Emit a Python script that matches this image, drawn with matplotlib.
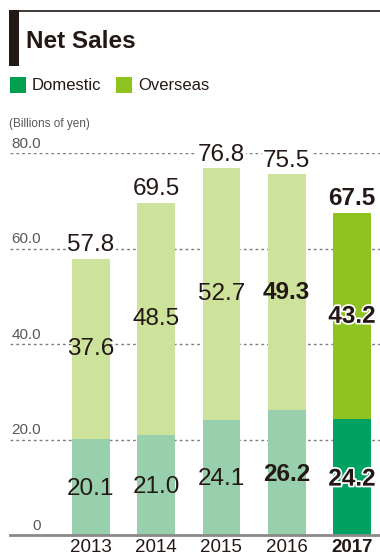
import matplotlib.pyplot as plt
import matplotlib.patheffects as pe
from matplotlib.patches import Rectangle
from matplotlib.lines import Line2D

plt.rcParams['font.family'] = ['Liberation Sans', 'DejaVu Sans']

# net sales, billions of yen
years = ['2013', '2014', '2015', '2016', '2017']
domestic = [20.1, 21.0, 24.1, 26.2, 24.2]
overseas = [37.6, 48.5, 52.7, 49.3, 43.2]
totals = [57.8, 69.5, 76.8, 75.5, 67.5]
yticks = [0, 20, 40, 60, 80]
ytick_labels = ['0', '20.0', '40.0', '60.0', '80.0']

INK = '#231815'
GRAY = '#595757'
dom_colors = ['#98cfac'] * 4 + ['#00a262']
ovs_colors = ['#cde29b'] * 4 + ['#8fc31f']

W, H = 380, 555
fig = plt.figure(figsize=(W / 100, H / 100), dpi=100)


def fx(px):
    return px / W


def fy(py):
    return 1 - py / H


# header: rule, black tab, title
fig.add_artist(Line2D([fx(10), 1], [fy(10.5), fy(10.5)], color=INK, lw=1.2))
fig.add_artist(Rectangle((fx(9), fy(66)), fx(10), (66 - 10) / H,
                         color=INK, lw=0))
fig.text(fx(26), fy(42), 'Net Sales', fontsize=17.5, fontweight='bold',
         color=INK, va='center', ha='left')

# legend
for x0, label, c in [(10, 'Domestic', '#00a050'), (116, 'Overseas', '#8dc21f')]:
    fig.add_artist(Rectangle((fx(x0), fy(93)), fx(16), 16 / H, color=c, lw=0))
    fig.text(fx(x0 + 22), fy(85.5), label, fontsize=12, color=INK,
             va='center', ha='left')

fig.text(fx(9), fy(124), '(Billions of yen)', fontsize=8.5, color=GRAY,
         va='center', ha='left')

ax = fig.add_axes([fx(10), fy(535), 1 - fx(10), (535 - 153) / H])
x = list(range(len(years)))
width = 0.58

ax.bar(x, domestic, width, color=dom_colors, zorder=2)
ax.bar(x, overseas, width, bottom=domestic, color=ovs_colors, zorder=2)

ax.set_xlim(-1.24, 4.43)
ax.set_ylim(0, 80)
for s in ax.spines.values():
    s.set_visible(False)
ax.set_xticks([])
ax.set_yticks([])

# dotted gridlines and tick labels above them
for v, lab in zip(yticks, ytick_labels):
    if v > 0:
        ax.axhline(v, color='#7d7d7d', lw=1, ls=(0, (2, 2.2)), zorder=1)
    ax.annotate(lab, xy=(0.084, v), xycoords=ax.get_yaxis_transform(),
                xytext=(0, 1.5), textcoords='offset points',
                ha='right', va='bottom', fontsize=11, color=GRAY)
ax.axhline(0, color='#8a8a8a', lw=2, zorder=3, clip_on=False)

outline = [pe.withStroke(linewidth=2.5, foreground='white')]
for i in x:
    last = i == len(years) - 1
    inner_bold = i >= 3
    effects = outline if last else None
    ax.text(i, domestic[i] / 2 - 0.4, f'{domestic[i]:.1f}', ha='center',
            va='center', fontsize=17.5, color=INK, zorder=4,
            path_effects=effects,
            fontweight='bold' if inner_bold else 'normal')
    ax.text(i, domestic[i] + overseas[i] / 2, f'{overseas[i]:.1f}',
            ha='center', va='center', fontsize=17.5, color=INK, zorder=4,
            path_effects=effects,
            fontweight='bold' if inner_bold else 'normal')
    ax.annotate(f'{totals[i]:.1f}', xy=(i, totals[i]), xytext=(0, 2),
                textcoords='offset points', ha='center', va='bottom',
                fontsize=17.5, color=INK, zorder=4,
                fontweight='bold' if last else 'normal',
                bbox=dict(boxstyle='square,pad=0.05', fc='white', ec='none'))
    ax.annotate(years[i], xy=(i, 0), xytext=(0, -3),
                textcoords='offset points', ha='center', va='top',
                fontsize=13.5, color=INK, annotation_clip=False,
                fontweight='bold' if last else 'normal')

fig.savefig('out.png', dpi=100)
